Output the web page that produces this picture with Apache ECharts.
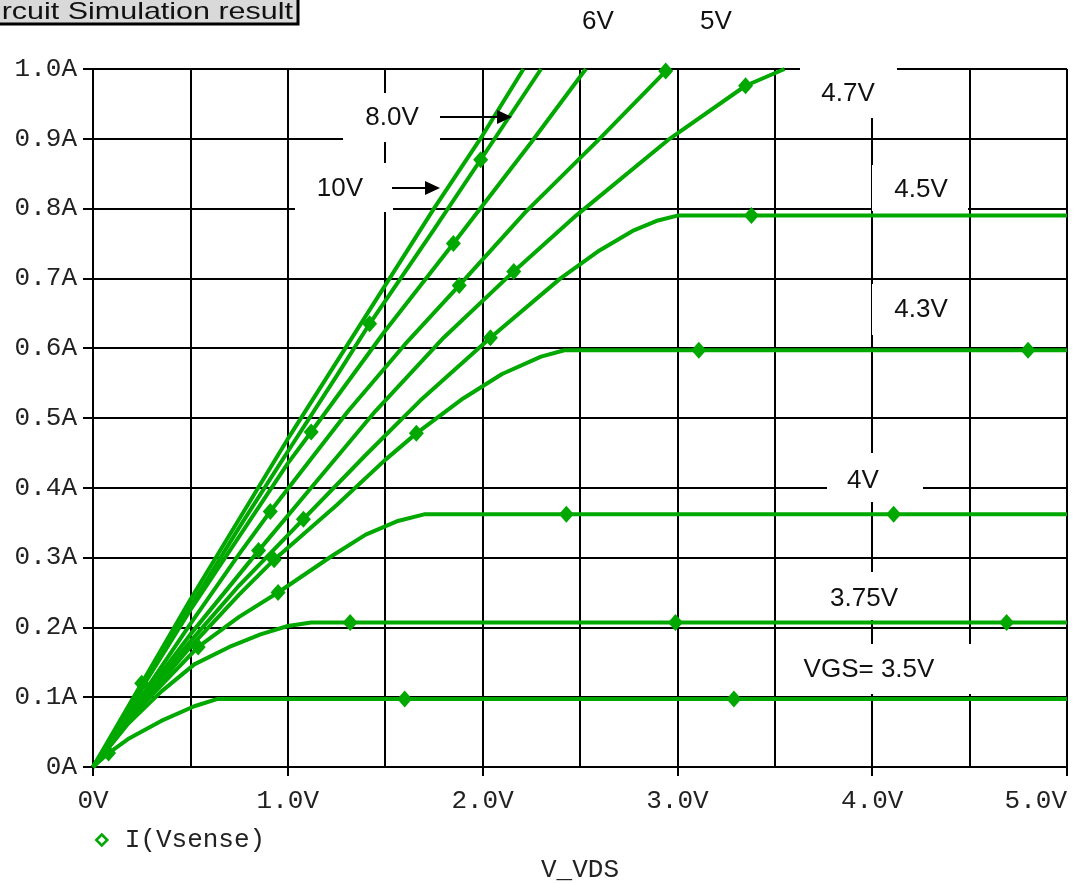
<!DOCTYPE html>
<html>
<head>
<meta charset="utf-8">
<script src="https://cdn.jsdelivr.net/npm/echarts@6/dist/echarts.min.js"></script>
<style>
html,body{margin:0;padding:0;background:#fff;}
#chart{width:1075px;height:884px;}
</style>
</head>
<body>
<div id="chart"></div>
<script>
// ---- data ----
const xTickLabels = ['0V', '1.0V', '2.0V', '3.0V', '4.0V', '5.0V'];
const yTickLabels = ['0A', '0.1A', '0.2A', '0.3A', '0.4A', '0.5A', '0.6A', '0.7A', '0.8A', '0.9A', '1.0A'];
const seriesName = 'I(Vsense)';
const xAxisName = 'V_VDS';
const titleText = 'Circuit Simulation result';

// VDS (V), I (A) per gate voltage curve
const vgs35 = [[0,0],[0.08,0.02],[0.18,0.04],[0.35,0.066],[0.52,0.087],[0.64,0.0975],[1.60,0.0975],[3.29,0.0975],[5.0,0.0975]];
const vgs375 = [[0,0],[0.18,0.062],[0.35,0.108],[0.52,0.147],[0.70,0.172],[0.86,0.19],[1.0,0.202],[1.12,0.207],[1.32,0.207],[2.99,0.207],[4.69,0.207],[5.0,0.207]];
const vgs4 = [[0,0],[0.25,0.088],[0.54,0.172],[0.75,0.215],[0.95,0.25],[1.23,0.303],[1.40,0.333],[1.56,0.352],[1.70,0.362],[2.43,0.362],[4.11,0.362],[5.0,0.362]];
const vgs43 = [[0,0],[0.25,0.09],[0.5,0.172],[0.75,0.247],[0.93,0.297],[1.25,0.375],[1.5,0.44],[1.66,0.478],[1.9,0.528],[2.1,0.563],[2.3,0.588],[2.42,0.597],[3.11,0.597],[4.80,0.597],[5.0,0.597]];
const vgs45 = [[0,0],[0.25,0.095],[0.5,0.18],[0.75,0.26],[1.08,0.355],[1.4,0.447],[1.68,0.525],[2.04,0.615],[2.4,0.70],[2.6,0.74],[2.77,0.768],[2.9,0.783],[3.0,0.79],[3.38,0.79],[5.0,0.79]];
const vgs47 = [[0,0],[0.25,0.098],[0.5,0.19],[0.85,0.31],[1.15,0.41],[1.45,0.51],[1.8,0.615],[2.16,0.71],[2.48,0.79],[2.96,0.90],[3.35,0.976],[3.55,1.0]];
const vgs5 = [[0,0],[0.25,0.102],[0.5,0.205],[0.75,0.305],[0.91,0.366],[1.31,0.51],[1.6,0.605],[1.88,0.69],[2.22,0.795],[2.6,0.90],[2.94,0.997]];
const vgs6 = [[0,0],[0.25,0.113],[0.5,0.225],[0.75,0.33],[1.0,0.435],[1.12,0.48],[1.5,0.625],[1.85,0.75],[2.25,0.895],[2.53,1.0]];
const vgs8 = [[0,0],[0.25,0.115],[0.5,0.23],[0.75,0.343],[1.0,0.452],[1.25,0.56],[1.42,0.635],[1.75,0.77],[1.99,0.87],[2.30,1.0]];
const vgs10 = [[0,0],[0.25,0.12],[0.5,0.24],[0.75,0.355],[1.0,0.47],[1.25,0.58],[1.5,0.69],[1.75,0.80],[2.0,0.905],[2.21,1.0]];

// VDS positions where a diamond marker sits on each curve
const markers35 = [0.08, 1.60, 3.29];
const markers375 = [1.32, 2.99, 4.69];
const markers4 = [0.54, 0.95, 2.43, 4.11];
const markers43 = [0.93, 1.66, 3.11, 4.80];
const markers45 = [1.08, 2.04, 3.38];
const markers47 = [0.25, 0.85, 2.16, 3.35];
const markers5 = [0.91, 1.88, 2.94];
const markers6 = [1.12, 1.85];
const markers8 = [1.42, 1.99];
const markers10 = [0.25];

const curveLabels = ['VGS= 3.5V', '3.75V', '4V', '4.3V', '4.5V', '4.7V', '5V', '6V', '8.0V', '10V'];

// ---- build chart ----
const GREEN = '#00a800';
const MONO = '"Liberation Mono", "Courier New", monospace';
const SANS = '"Liberation Sans", Arial, sans-serif';
const curves = [vgs35, vgs375, vgs4, vgs43, vgs45, vgs47, vgs5, vgs6, vgs8, vgs10];
const markerSets = [markers35, markers375, markers4, markers43, markers45, markers47, markers5, markers6, markers8, markers10];

const series = curves.map((pts, k) => ({
  name: seriesName,
  type: 'line',
  symbol: 'none',
  showSymbol: true,
  silent: true,
  clip: true,
  z: 3,
  lineStyle: { color: GREEN, width: 4 },
  itemStyle: { color: GREEN },
  data: pts.map(p => markerSets[k].indexOf(p[0]) >= 0
    ? { value: p, symbol: 'diamond', symbolSize: [15, 17] }
    : { value: p })
}));

function box(x, y, w, h) {
  return { type: 'rect', z: 100, shape: { x: x, y: y, width: w, height: h }, style: { fill: '#fff' } };
}
function label(t, x, y) {
  return { type: 'text', z: 101, x: x, y: y,
    style: { text: t, font: '26px ' + SANS, fill: '#111', align: 'center', verticalAlign: 'middle' } };
}

const chart = echarts.init(document.getElementById('chart'), null, { renderer: 'canvas' });
chart.setOption({
  animation: false,
  backgroundColor: '#fff',
  grid: { left: 93, right: 8, top: 69, bottom: 117, containLabel: false, outerBoundsMode: 'none' },
  legend: {
    left: 90, top: 822, itemWidth: 36, itemHeight: 11, selectedMode: false,
    symbolKeepAspect: true,
    data: [{ name: seriesName, icon: 'path://M0,-10L10,0L0,10L-10,0Z',
      itemStyle: { color: '#fff', borderColor: GREEN, borderWidth: 2.5 } }],
    textStyle: { fontFamily: MONO, fontSize: 26, color: '#222' }
  },
  xAxis: {
    type: 'value', min: 0, max: 5, interval: 1,
    name: xAxisName, nameLocation: 'middle', nameGap: 90,
    nameTextStyle: { fontFamily: MONO, fontSize: 26, color: '#222' },
    axisLine: { show: true, onZero: false, lineStyle: { color: '#000', width: 2 } },
    axisTick: { show: true, length: 9, lineStyle: { color: '#000', width: 2 } },
    axisLabel: { margin: 21, fontFamily: MONO, fontSize: 26, color: '#222',
      alignMaxLabel: 'right',
      formatter: v => xTickLabels[Math.round(v)] },
    splitLine: { show: true, lineStyle: { color: '#000', width: 2 } },
    minorTick: { show: false, splitNumber: 2 },
    minorSplitLine: { show: true, lineStyle: { color: '#000', width: 2 } }
  },
  yAxis: {
    type: 'value', min: 0, max: 1, interval: 0.1,
    axisLine: { show: true, onZero: false, lineStyle: { color: '#000', width: 2 } },
    axisTick: { show: true, length: 10, lineStyle: { color: '#000', width: 2 } },
    axisLabel: { margin: 16, fontFamily: MONO, fontSize: 26, color: '#222',
      formatter: v => yTickLabels[Math.round(v * 10)] },
    splitLine: { show: true, lineStyle: { color: '#000', width: 2 } }
  },
  series: series,
  graphic: [
    { type: 'group', z: 100, children: [
      { type: 'rect', shape: { x: -10, y: -10, width: 308, height: 34 },
        style: { fill: '#d9d9d9', stroke: '#000', lineWidth: 3 } },
      { type: 'text', x: 293, y: 12, scaleX: 1.27,
        style: { text: titleText, font: '24px ' + SANS, fill: '#111', align: 'right', verticalAlign: 'middle' } }
    ]},
    box(343, 93, 97, 49),
    box(295, 163, 98, 49),
    box(800, 58, 97, 60),
    box(872, 165, 96, 46),
    box(872, 284, 96, 51),
    box(827, 453, 96, 49),
    box(800, 572, 120, 48),
    box(776, 644, 288, 50),
    label(curveLabels[7], 598, 22),
    label(curveLabels[6], 716, 22),
    label(curveLabels[8], 392, 118),
    label(curveLabels[9], 340, 189),
    label(curveLabels[5], 848, 94),
    label(curveLabels[4], 921, 190),
    label(curveLabels[3], 921, 310),
    label(curveLabels[2], 863, 481),
    label(curveLabels[1], 864, 599),
    label(curveLabels[0], 869, 670),
    { type: 'line', z: 101, shape: { x1: 440, y1: 117, x2: 499, y2: 117 }, style: { stroke: '#000', lineWidth: 2 } },
    { type: 'polygon', z: 101, shape: { points: [[497, 110], [512, 117], [497, 124]] }, style: { fill: '#000' } },
    { type: 'line', z: 101, shape: { x1: 392, y1: 188, x2: 427, y2: 188 }, style: { stroke: '#000', lineWidth: 2 } },
    { type: 'polygon', z: 101, shape: { points: [[425, 181], [440, 188], [425, 195]] }, style: { fill: '#000' } }
  ]
});
</script>
</body>
</html>
